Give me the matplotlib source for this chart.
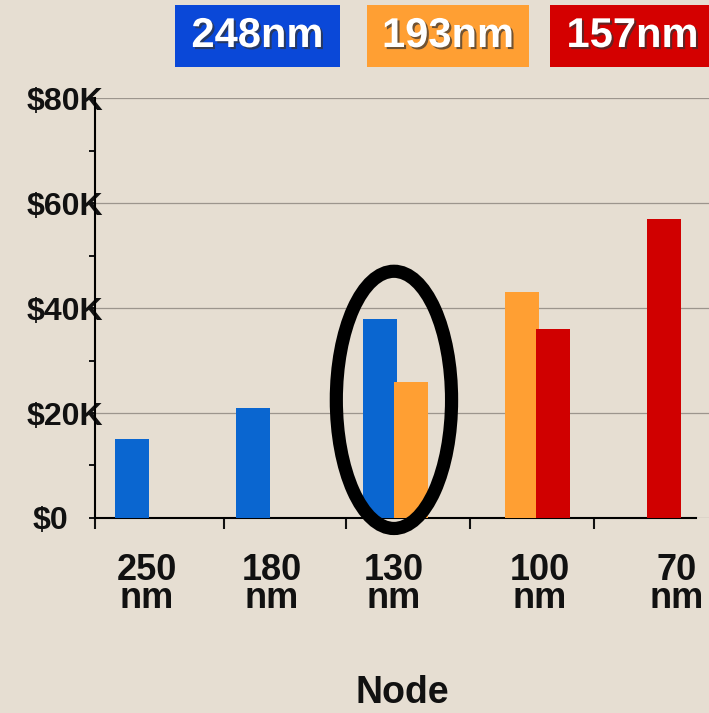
import matplotlib.pyplot as plt
import matplotlib.patheffects as pe
from matplotlib.patches import Ellipse, Rectangle

plt.rcParams['font.family'] = ['Liberation Sans', 'DejaVu Sans']
plt.rcParams['font.weight'] = 'bold'

# cost per tool by node, in $K
nodes = ['250\nnm', '180\nnm', '130\nnm', '100\nnm', '70\nnm']
cost_248 = [15, 21, 38, None, None]
cost_193 = [None, None, 26, 43, None]
cost_157 = [None, None, None, 36, 57]

series = [('248nm', cost_248, '#0a66d0', '#0a48d8'),
          ('193nm', cost_193, '#ff9f33', '#ff9f33'),
          ('157nm', cost_157, '#d00000', '#d40000')]

# group centres along the x axis
group_x = [-0.034, 0.995, 2.075, 3.02, 3.96]

bg = '#e6ded2'
fig = plt.figure(figsize=(7.09, 7.13), dpi=100, facecolor=bg)
ax = fig.add_axes([0.134, 0.2735, 0.866, 0.589], facecolor=bg)

width = 0.29
offsets = [-0.264, 0.0, 0.264]
for (name, vals, col, _), off in zip(series, offsets):
    for gx, v in zip(group_x, vals):
        if v is not None:
            ax.bar(gx + off, v, width=width, color=col, zorder=3)

ax.set_xlim(-0.612, 4.609)
ax.set_ylim(0, 80)

# gridlines and y axis
ax.set_yticks([0, 20, 40, 60, 80])
ax.set_yticklabels(['', '$20K', '$40K', '$60K', '$80K'])
ax.set_yticks([10, 30, 50, 70], minor=True)
ax.yaxis.grid(True, color='#9c958d', linewidth=0.9, zorder=0)
ax.tick_params(axis='y', which='both', direction='out', length=4, width=1.4,
               pad=-10, labelsize=23, colors='#111111')
for lab in ax.get_yticklabels():
    lab.set_zorder(5)
ax.annotate('$0', xy=(0, 0), xycoords=('axes fraction', 'data'),
            xytext=(-19, -2), textcoords='offset points', ha='right',
            va='center', fontsize=23, color='#111111')

# x axis: boundary ticks, labels placed under the bar groups
ax.set_xticks([-0.17, 0.89, 1.93, 3.17, 4.33])
ax.set_xticklabels(nodes, linespacing=0.74)
ax.set_xticks([-0.612, 0.485, 1.52, 2.58, 3.63], minor=True)
ax.tick_params(axis='x', which='major', length=0, pad=25, labelsize=26,
               colors='#111111')
ax.tick_params(axis='x', which='minor', direction='out', length=8, width=1.5,
               color='#111111')

for s in ['top', 'right']:
    ax.spines[s].set_visible(False)
ax.spines['left'].set_linewidth(1.5)
ax.spines['bottom'].set_linewidth(1.5)
ax.spines['bottom'].set_bounds(-0.612, 4.5)

ax.set_xlabel('Node', fontsize=27, fontweight='bold', labelpad=43,
              color='#111111')

# highlight the 130nm transition
ax.add_patch(Ellipse((1.93, 22.5), 0.98, 49, fill=False, edgecolor='black',
                     linewidth=9.5, zorder=6, clip_on=False))

# legend boxes across the top
boxes = [(175, 165), (367, 162), (550, 165)]
for (name, _, _, lc), (x0, w) in zip(series, boxes):
    fig.patches.append(Rectangle((x0 / 709, 1 - 67 / 713), w / 709, 62 / 713,
                                 transform=fig.transFigure, facecolor=lc,
                                 edgecolor='none'))
    fig.text((x0 + w / 2) / 709, 1 - 36 / 713, name, color='white',
             fontsize=30, ha='center', va='center',
             path_effects=[pe.withSimplePatchShadow(offset=(1.5, -1.5),
                                                     shadow_rgbFace='#333333',
                                                     alpha=0.7)])

fig.savefig('out.png', dpi=100, facecolor=bg)
